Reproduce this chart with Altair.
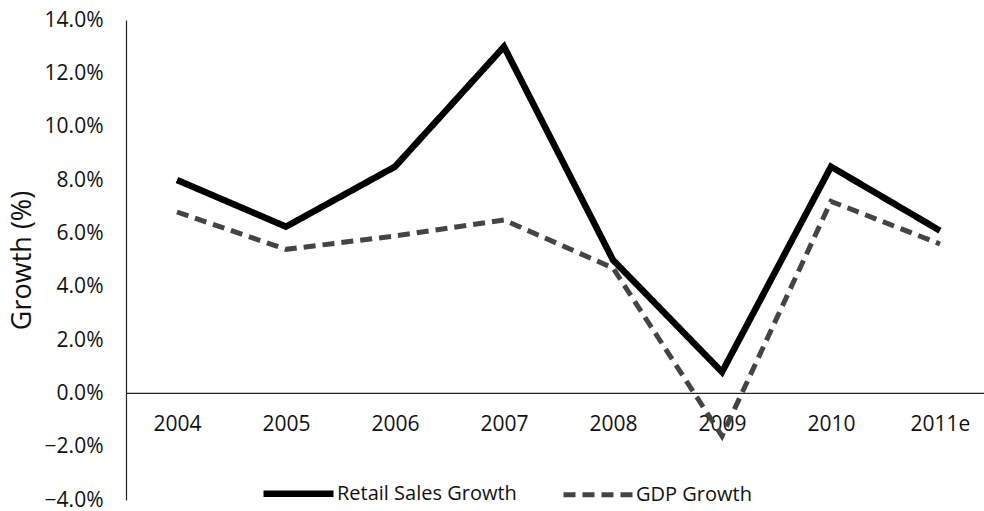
import altair as alt
import pandas as pd

years = ["2004", "2005", "2006", "2007", "2008", "2009", "2010", "2011e"]
retail = [8.0, 6.25, 8.5, 13.0, 5.0, 0.8, 8.5, 6.1]
gdp = [6.8, 5.4, 5.9, 6.5, 4.7, -1.6, 7.2, 5.6]
series = ["Retail Sales Growth", "GDP Growth"]
y_ticks = [-4, -2, 0, 2, 4, 6, 8, 10, 12, 14]

rows = []
for name, vals in zip(series, [retail, gdp]):
    for yr, v in zip(years, vals):
        rows.append({"Year": yr, "Growth": v, "Series": name})
df = pd.DataFrame(rows)

W, H = 858, 480
FONT = "Open Sans"

legend = alt.Legend(
    title=None, orient="none", legendX=134, legendY=435, direction="horizontal",
    symbolType="stroke", symbolSize=4900, labelFontSize=20, labelFont=FONT,
    labelColor="#111111", labelOffset=0, columnPadding=36, labelLimit=400,
)

x_enc = alt.X(
    "Year:O", sort=years,
    scale=alt.Scale(type="point", range=[51, 814], padding=0),
    axis=alt.Axis(title=None, domain=False, ticks=False, tickSize=0, labelAngle=0,
                  labelFont=FONT, labelFontSize=21, labelColor="#111111",
                  labelPadding=20, labelBaseline="top", offset=-H * 4 / 18),
)
y_enc = alt.Y(
    "Growth:Q",
    scale=alt.Scale(domain=[-4, 14], nice=False, zero=False),
    axis=alt.Axis(title="Growth (%)", values=y_ticks, grid=False, ticks=False, tickSize=0,
                  domainColor="#222222", domainWidth=1.2,
                  labelExpr="format(datum.value, '.1f') + '%'",
                  labelFont=FONT, labelFontSize=21, labelColor="#111111", labelPadding=23,
                  titleFont=FONT, titleFontSize=27, titleFontWeight="normal",
                  titleColor="#111111", titleX=-104, titleBaseline="middle"),
)

lines = alt.Chart(df).mark_line(strokeJoin="miter", strokeCap="butt").encode(
    x=x_enc,
    y=y_enc,
    color=alt.Color("Series:N", sort=series,
                    scale=alt.Scale(domain=series, range=["#000000", "#444444"]), legend=legend),
    strokeDash=alt.StrokeDash("Series:N", sort=series,
                              scale=alt.Scale(domain=series, range=[[1, 0], [12, 7]]), legend=legend),
    strokeWidth=alt.StrokeWidth("Series:N", sort=series,
                                scale=alt.Scale(domain=series, range=[6.5, 5]), legend=legend),
)

zero = alt.Chart(pd.DataFrame({"v": [0]})).mark_rule(color="#222222", strokeWidth=1.2).encode(
    x=alt.value(0), x2=alt.value(W), y=alt.Y("v:Q")
)

chart = alt.layer(zero, lines).properties(
    width=W, height=H,
    autosize=alt.AutoSizeParams(type="none"),
    padding={"left": 126, "top": 20, "right": 0, "bottom": 11},
    background="white",
).configure_view(stroke=None)

chart.save("out.html", embed_options={"renderer": "svg", "actions": False})
